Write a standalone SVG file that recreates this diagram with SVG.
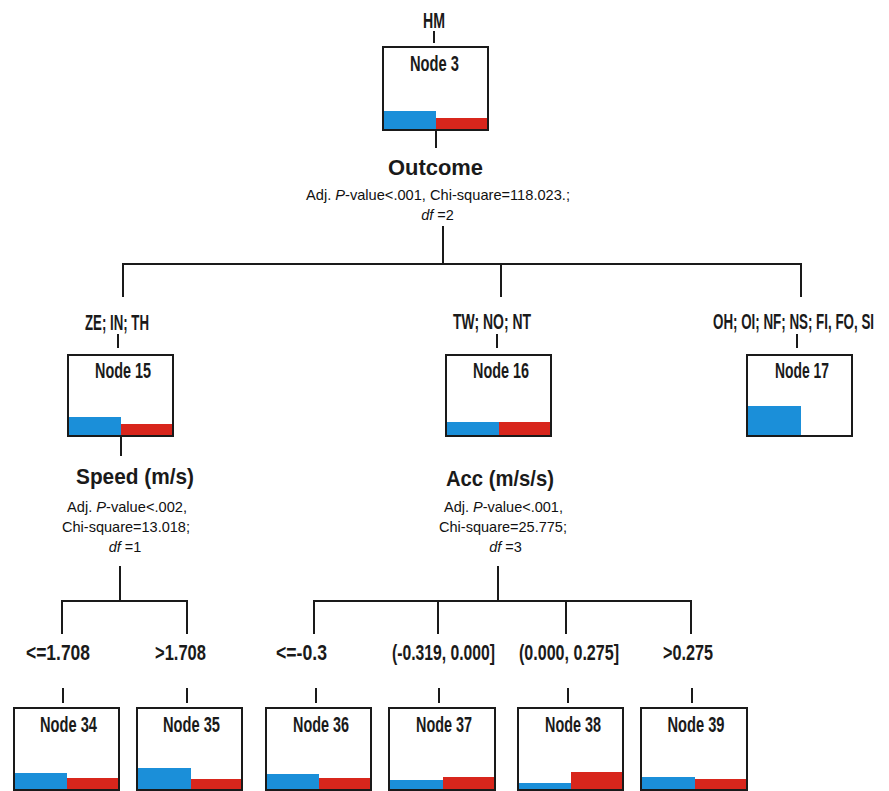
<svg xmlns="http://www.w3.org/2000/svg" width="889" height="791" viewBox="0 0 889 791">
<style>
.bg{fill:#ffffff}
.box{fill:none;stroke:#1a1a1a;stroke-width:2}
.blue{fill:#1b8fd9}
.red{fill:#d8261c}
.ln{stroke:#1a1a1a;stroke-width:2;fill:none}
.lab{font-family:"Liberation Sans Narrow","Liberation Sans",Arial,sans-serif;font-size:22px;font-weight:bold;fill:#1a1a1a;text-anchor:middle}
.ttl{font-family:"Liberation Sans",Arial,sans-serif;font-size:22px;font-weight:bold;fill:#1a1a1a;text-anchor:middle}
.st{font-family:"Liberation Sans",Arial,sans-serif;font-size:14.5px;fill:#111111;text-anchor:middle}
.it{font-style:italic}
</style>
<rect class="bg" x="0" y="0" width="889" height="791"/>

<g id="connectors">
<line class="ln" x1="434" y1="31" x2="434" y2="43"/>
<line class="ln" x1="436" y1="130" x2="436" y2="148"/>
<line class="ln" x1="443" y1="226" x2="443" y2="264"/>
<polyline class="ln" points="123,297 123,264 801,264 801,297"/>
<line class="ln" x1="501" y1="264" x2="501" y2="297"/>
<line class="ln" x1="118" y1="334" x2="118" y2="348"/>
<line class="ln" x1="497" y1="334" x2="497" y2="348"/>
<line class="ln" x1="797" y1="334" x2="797" y2="348"/>
<line class="ln" x1="121" y1="436" x2="121" y2="456"/>
<line class="ln" x1="120" y1="566" x2="120" y2="601"/>
<polyline class="ln" points="62,634 62,601 187,601 187,634"/>
<line class="ln" x1="498" y1="566" x2="498" y2="601"/>
<polyline class="ln" points="314,634 314,601 691,601 691,634"/>
<line class="ln" x1="438" y1="601" x2="438" y2="634"/>
<line class="ln" x1="566" y1="601" x2="566" y2="634"/>
<line class="ln" x1="63" y1="688" x2="63" y2="703"/>
<line class="ln" x1="187" y1="688" x2="187" y2="703"/>
<line class="ln" x1="316" y1="688" x2="316" y2="703"/>
<line class="ln" x1="439" y1="688" x2="439" y2="703"/>
<line class="ln" x1="568" y1="688" x2="568" y2="703"/>
<line class="ln" x1="692" y1="688" x2="692" y2="703"/>
</g>

<g id="labels">
<text class="lab" x="434" y="28" textLength="22" lengthAdjust="spacingAndGlyphs">HM</text>
<text class="lab" x="117" y="330" textLength="64" lengthAdjust="spacingAndGlyphs">ZE; IN; TH</text>
<text class="lab" x="492" y="329" textLength="78" lengthAdjust="spacingAndGlyphs">TW; NO; NT</text>
<text class="lab" x="793.5" y="329" textLength="161" lengthAdjust="spacingAndGlyphs">OH; OI; NF; NS; FI, FO, SI</text>
<text class="lab" x="58" y="660" textLength="64" lengthAdjust="spacingAndGlyphs">&lt;=1.708</text>
<text class="lab" x="180.5" y="660" textLength="51" lengthAdjust="spacingAndGlyphs">&gt;1.708</text>
<text class="lab" x="301.5" y="660" textLength="51" lengthAdjust="spacingAndGlyphs">&lt;=-0.3</text>
<text class="lab" x="443.5" y="660" textLength="103" lengthAdjust="spacingAndGlyphs">(-0.319, 0.000]</text>
<text class="lab" x="569" y="660" textLength="100" lengthAdjust="spacingAndGlyphs">(0.000, 0.275]</text>
<text class="lab" x="688" y="660" textLength="50" lengthAdjust="spacingAndGlyphs">&gt;0.275</text>
</g>

<g id="split-outcome">
<text class="ttl" x="435.5" y="175" textLength="95" lengthAdjust="spacingAndGlyphs">Outcome</text>
<text class="st" x="438" y="200" textLength="264" lengthAdjust="spacingAndGlyphs">Adj. <tspan class="it">P</tspan>-value&lt;.001, Chi-square=118.023.;</text>
<text class="st" x="437.5" y="220"><tspan class="it">df</tspan> =2</text>
</g>

<g id="split-speed">
<text class="ttl" x="135" y="484" textLength="118" lengthAdjust="spacingAndGlyphs">Speed (m/s)</text>
<text class="st" x="127" y="512" textLength="120" lengthAdjust="spacingAndGlyphs">Adj. <tspan class="it">P</tspan>-value&lt;.002,</text>
<text class="st" x="126" y="532" textLength="128" lengthAdjust="spacingAndGlyphs">Chi-square=13.018;</text>
<text class="st" x="125" y="552"><tspan class="it">df</tspan> =1</text>
</g>

<g id="split-acc">
<text class="ttl" x="500" y="486" textLength="108" lengthAdjust="spacingAndGlyphs">Acc (m/s/s)</text>
<text class="st" x="503.5" y="512" textLength="119" lengthAdjust="spacingAndGlyphs">Adj. <tspan class="it">P</tspan>-value&lt;.001,</text>
<text class="st" x="503" y="532" textLength="128" lengthAdjust="spacingAndGlyphs">Chi-square=25.775;</text>
<text class="st" x="505.5" y="552"><tspan class="it">df</tspan> =3</text>
</g>

<g id="node3">
<rect class="blue" x="383" y="111" width="53" height="19"/>
<rect class="red" x="436" y="118" width="52" height="12"/>
<rect class="box" x="383" y="47" width="105" height="83"/>
<text class="lab" x="434.5" y="71" textLength="49" lengthAdjust="spacingAndGlyphs">Node 3</text>
</g>

<g id="node15">
<rect class="blue" x="68" y="417" width="53" height="19"/>
<rect class="red" x="121" y="424" width="52" height="12"/>
<rect class="box" x="68" y="355" width="105" height="81"/>
<text class="lab" x="123" y="378" textLength="56" lengthAdjust="spacingAndGlyphs">Node 15</text>
</g>

<g id="node16">
<rect class="blue" x="446" y="422" width="53" height="14"/>
<rect class="red" x="499" y="422" width="52" height="14"/>
<rect class="box" x="446" y="355" width="105" height="81"/>
<text class="lab" x="501" y="378" textLength="56" lengthAdjust="spacingAndGlyphs">Node 16</text>
</g>

<g id="node17">
<rect class="blue" x="747" y="406" width="54" height="30"/>
<rect class="box" x="747" y="355" width="105" height="81"/>
<text class="lab" x="802" y="378" textLength="54" lengthAdjust="spacingAndGlyphs">Node 17</text>
</g>

<g id="node34">
<rect class="blue" x="14" y="773" width="53" height="17"/>
<rect class="red" x="67" y="778" width="51" height="12"/>
<rect class="box" x="14" y="708" width="105" height="82"/>
<text class="lab" x="68.5" y="732" textLength="57" lengthAdjust="spacingAndGlyphs">Node 34</text>
</g>

<g id="node35">
<rect class="blue" x="137" y="768" width="54" height="22"/>
<rect class="red" x="191" y="779" width="51" height="11"/>
<rect class="box" x="137" y="708" width="105" height="82"/>
<text class="lab" x="191.5" y="732" textLength="57" lengthAdjust="spacingAndGlyphs">Node 35</text>
</g>

<g id="node36">
<rect class="blue" x="266" y="774" width="53" height="16"/>
<rect class="red" x="319" y="778" width="51" height="12"/>
<rect class="box" x="266" y="708" width="105" height="82"/>
<text class="lab" x="321" y="732" textLength="56" lengthAdjust="spacingAndGlyphs">Node 36</text>
</g>

<g id="node37">
<rect class="blue" x="389" y="780" width="54" height="10"/>
<rect class="red" x="443" y="777" width="51" height="13"/>
<rect class="box" x="389" y="708" width="106" height="82"/>
<text class="lab" x="444" y="732" textLength="56" lengthAdjust="spacingAndGlyphs">Node 37</text>
</g>

<g id="node38">
<rect class="blue" x="518" y="783" width="53" height="7"/>
<rect class="red" x="571" y="772" width="51" height="18"/>
<rect class="box" x="518" y="708" width="105" height="82"/>
<text class="lab" x="573" y="732" textLength="56" lengthAdjust="spacingAndGlyphs">Node 38</text>
</g>

<g id="node39">
<rect class="blue" x="641" y="777" width="54" height="13"/>
<rect class="red" x="695" y="779" width="52" height="11"/>
<rect class="box" x="641" y="708" width="106" height="82"/>
<text class="lab" x="696" y="732" textLength="57" lengthAdjust="spacingAndGlyphs">Node 39</text>
</g>
</svg>
